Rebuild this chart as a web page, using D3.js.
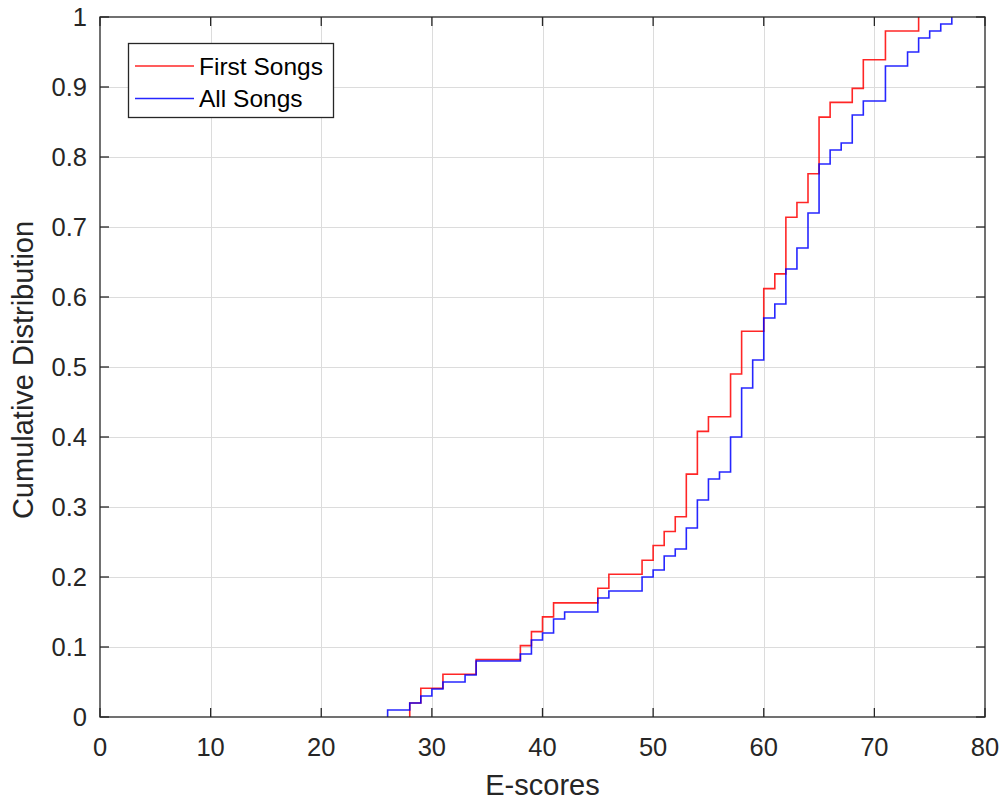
<!DOCTYPE html>
<html>
<head>
<meta charset="utf-8">
<script src="https://cdn.jsdelivr.net/npm/d3@7"></script>
<style>
  html, body { margin: 0; padding: 0; background: #fff; }
  svg { display: block; font-family: "Liberation Sans", Arial, Helvetica, sans-serif; }
  .tick-label { fill: #262626; font-size: 25.5px; }
  .axis-title { fill: #262626; font-size: 29px; }
  .legend-text { fill: #000; font-size: 24.5px; }
</style>
</head>
<body>
<div id="chart"></div>
<script>
// E-score steps (step position, cumulative fraction)
const firstX = [28, 29, 31, 34, 38, 39, 40, 41, 45, 46, 49, 50, 51, 52, 53, 54, 55, 57, 58, 60,
                61, 62, 63, 64, 65, 66, 68, 69, 71, 74];
const firstCdf = [0.020, 0.041, 0.061, 0.082, 0.102, 0.122, 0.143, 0.163, 0.184, 0.204,
                  0.224, 0.245, 0.265, 0.286, 0.347, 0.408, 0.429, 0.490, 0.551, 0.612,
                  0.633, 0.714, 0.735, 0.776, 0.857, 0.878, 0.898, 0.939, 0.980, 1.000];

const allX = [26, 28, 29, 30, 31, 33, 34, 38, 39, 40, 41, 42, 45, 46, 49, 50, 51, 52, 53, 54,
              55, 56, 57, 58, 59, 60, 61, 62, 63, 64, 65, 66, 67, 68, 69, 71, 73, 74, 75, 76, 77];
const allCdf = [0.01, 0.02, 0.03, 0.04, 0.05, 0.06, 0.08, 0.09, 0.11, 0.12, 0.14, 0.15, 0.17, 0.18,
                0.20, 0.21, 0.23, 0.24, 0.27, 0.31, 0.34, 0.35, 0.40, 0.47, 0.51, 0.57, 0.59, 0.64,
                0.67, 0.72, 0.79, 0.81, 0.82, 0.86, 0.88, 0.93, 0.95, 0.97, 0.98, 0.99, 1.00];

const xTicks = [0, 10, 20, 30, 40, 50, 60, 70, 80];
const yTicks = [0, 0.1, 0.2, 0.3, 0.4, 0.5, 0.6, 0.7, 0.8, 0.9, 1];

const seriesNames = ["First Songs", "All Songs"];
const seriesColors = ["#ff0000", "#0000ff"];

const W = 1003, H = 801;
const plotL = 100, plotR = 985, plotT = 17, plotB = 717;

const svg = d3.select("#chart").append("svg")
  .attr("width", W).attr("height", H);

const x = d3.scaleLinear().domain([0, 80]).range([plotL, plotR]);
const y = d3.scaleLinear().domain([0, 1]).range([plotB, plotT]);

// --- grid ---
const grid = svg.append("g").attr("stroke", "#dcdcdc").attr("stroke-width", 1);
grid.selectAll("line.gx").data(xTicks.slice(1, -1)).join("line")
  .attr("x1", d => Math.round(x(d)) + 0.5).attr("x2", d => Math.round(x(d)) + 0.5)
  .attr("y1", plotT).attr("y2", plotB);
grid.selectAll("line.gy").data(yTicks.slice(1, -1)).join("line")
  .attr("y1", d => Math.round(y(d)) + 0.5).attr("y2", d => Math.round(y(d)) + 0.5)
  .attr("x1", plotL).attr("x2", plotR);

// --- CDF step lines ---
const line = d3.line()
  .x(d => x(d[0]))
  .y(d => y(d[1]))
  .curve(d3.curveStepAfter);

function stepPoints(xs, ys) {
  const pts = [[xs[0], 0]];
  xs.forEach((v, i) => pts.push([v, ys[i]]));
  return pts;
}

const series = [stepPoints(firstX, firstCdf), stepPoints(allX, allCdf)];
svg.append("g").selectAll("path").data(series).join("path")
  .attr("d", line)
  .attr("fill", "none")
  .attr("stroke", (d, i) => seriesColors[i])
  .attr("stroke-width", 1.6)
  .attr("stroke-opacity", 0.85);

// --- axes box with inward ticks on all sides ---
const ax = svg.append("g").attr("stroke", "#262626").attr("stroke-width", 1.3);
ax.append("rect")
  .attr("x", plotL).attr("y", plotT)
  .attr("width", plotR - plotL).attr("height", plotB - plotT)
  .attr("fill", "none");

const tickLen = 9;
xTicks.forEach(t => {
  const px = x(t);
  ax.append("line").attr("x1", px).attr("x2", px).attr("y1", plotB).attr("y2", plotB - tickLen);
  ax.append("line").attr("x1", px).attr("x2", px).attr("y1", plotT).attr("y2", plotT + tickLen);
});
yTicks.forEach(t => {
  const py = y(t);
  ax.append("line").attr("x1", plotL).attr("x2", plotL + tickLen).attr("y1", py).attr("y2", py);
  ax.append("line").attr("x1", plotR).attr("x2", plotR - tickLen).attr("y1", py).attr("y2", py);
});

// tick labels
svg.append("g").selectAll("text").data(xTicks).join("text")
  .attr("class", "tick-label")
  .attr("x", d => x(d)).attr("y", 756)
  .attr("text-anchor", "middle")
  .text(d => d);

svg.append("g").selectAll("text").data(yTicks).join("text")
  .attr("class", "tick-label")
  .attr("x", 87).attr("y", d => y(d))
  .attr("dy", "0.36em")
  .attr("text-anchor", "end")
  .text(d => d3.format("~g")(d));

// axis titles
svg.append("text").attr("class", "axis-title")
  .attr("x", (plotL + plotR) / 2).attr("y", 795)
  .attr("text-anchor", "middle")
  .text("E-scores");

svg.append("text").attr("class", "axis-title")
  .attr("transform", `translate(33,${(plotT + plotB) / 2 + 3}) rotate(-90)`)
  .attr("text-anchor", "middle")
  .text("Cumulative Distribution");

// --- legend ---
const lg = svg.append("g");
lg.append("rect")
  .attr("x", 128.5).attr("y", 43.5).attr("width", 205).attr("height", 74)
  .attr("fill", "#fff").attr("stroke", "#262626").attr("stroke-width", 1.3);
seriesNames.forEach((name, i) => {
  const ly = 66 + i * 32.5;
  lg.append("line")
    .attr("x1", 135).attr("x2", 194).attr("y1", ly).attr("y2", ly)
    .attr("stroke", seriesColors[i]).attr("stroke-width", 1.3).attr("stroke-opacity", 0.85);
  lg.append("text").attr("class", "legend-text")
    .attr("x", 199).attr("y", ly).attr("dy", "0.36em")
    .text(name);
});
</script>
</body>
</html>
